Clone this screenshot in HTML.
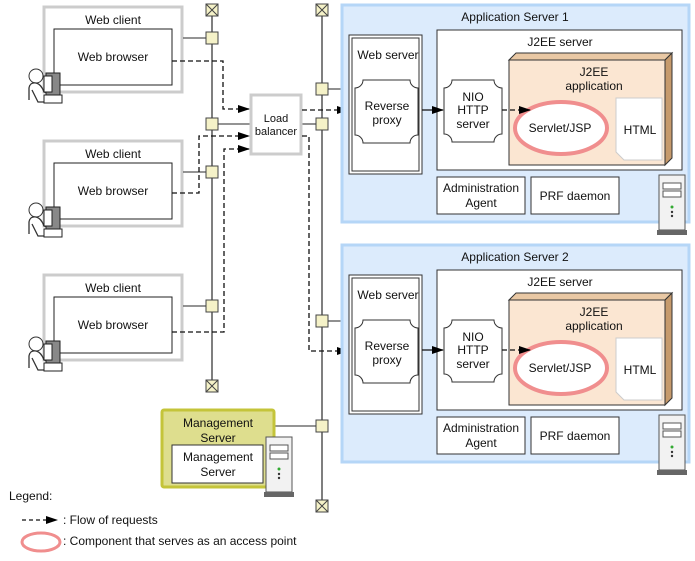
<!DOCTYPE html>
<html><head><meta charset="utf-8"><style>
body{margin:0;background:#fff}
text{font-family:"Liberation Sans",sans-serif;font-size:12px;fill:#111}
</style></head><body>
<svg width="695" height="556" viewBox="0 0 695 556" xmlns="http://www.w3.org/2000/svg">
<defs>
<marker id="ar" markerWidth="12" markerHeight="8" refX="11" refY="4" orient="auto" markerUnits="userSpaceOnUse"><path d="M0,0 L12,4 L0,8 z" fill="#000"/></marker>
<g id="person">
<circle cx="22" cy="8" r="7" fill="#fff" stroke="#333"/>
<path d="M15,32 L15,20 Q16,14 22,15 Q27,16 30,24 L38,26 M18,22 L24,34 L40,34" fill="none" stroke="#333" stroke-width="1.3"/>
<rect x="32" y="5" width="14" height="22" fill="#888" stroke="#222"/>
<rect x="30" y="8" width="8" height="16" fill="#fff" stroke="#222"/>
<rect x="30" y="27" width="18" height="8" fill="#fff" stroke="#222"/>
</g>
<g id="tower">
<rect x="2" y="0" width="26" height="55" fill="#f2f2f2" stroke="#555"/>
<rect x="6" y="8" width="18" height="6" fill="#fff" stroke="#555"/>
<rect x="6" y="16" width="18" height="6" fill="#fff" stroke="#555"/>
<circle cx="15" cy="32" r="1.5" fill="#3a3"/><circle cx="15" cy="37" r="1.2" fill="#333"/><circle cx="15" cy="41" r="1.2" fill="#333"/>
<rect x="0" y="55" width="30" height="5" fill="#666"/>
</g>
</defs>

<!-- bus lines -->
<line x1="212" y1="10" x2="212" y2="384" stroke="#555" stroke-width="1.5"/>
<line x1="322" y1="10" x2="322" y2="504" stroke="#555" stroke-width="1.5"/>

<!-- web clients -->
<g fill="none">
<rect x="44" y="7" width="138" height="85" stroke="#ccc" stroke-width="3" fill="#fff"/>
<rect x="54" y="29" width="118" height="56" stroke="#222"/>
<rect x="44" y="141" width="138" height="85" stroke="#ccc" stroke-width="3" fill="#fff"/>
<rect x="54" y="163" width="118" height="56" stroke="#222"/>
<rect x="44" y="275" width="138" height="85" stroke="#ccc" stroke-width="3" fill="#fff"/>
<rect x="54" y="297" width="118" height="56" stroke="#222"/>
</g>
<text x="113" y="24" text-anchor="middle">Web client</text>
<text x="113" y="61" text-anchor="middle">Web browser</text>
<text x="113" y="158" text-anchor="middle">Web client</text>
<text x="113" y="195" text-anchor="middle">Web browser</text>
<text x="113" y="292" text-anchor="middle">Web client</text>
<text x="113" y="329" text-anchor="middle">Web browser</text>
<use href="#person" x="14" y="68"/>
<use href="#person" x="14" y="202"/>
<use href="#person" x="14" y="336"/>

<!-- solid links -->
<g stroke="#555" stroke-width="1.3">
<line x1="183" y1="38" x2="206" y2="38"/>
<line x1="183" y1="172" x2="206" y2="172"/>
<line x1="183" y1="306" x2="206" y2="306"/>
<line x1="218" y1="124" x2="250" y2="124"/>
<line x1="302" y1="124" x2="316" y2="124"/>
<line x1="328" y1="89" x2="341" y2="89"/>
<line x1="328" y1="321" x2="341" y2="321"/>
<line x1="274" y1="426" x2="316" y2="426"/>
</g>

<!-- load balancer -->
<rect x="251" y="95" width="50" height="59" fill="#fff" stroke="#ccc" stroke-width="3"/>
<text x="276" y="122" text-anchor="middle" font-size="11" style="font-size:11px">Load</text>
<text x="276" y="135" text-anchor="middle" style="font-size:11px">balancer</text>

<!-- dashed flows -->
<g fill="none" stroke="#111" stroke-width="1.3" stroke-dasharray="5,3">
<path d="M172,61 L223,61 L223,109 L249,109" marker-end="url(#ar)"/>
<path d="M172,193 L199,193 L199,136 L249,136" marker-end="url(#ar)"/>
<path d="M172,332 L224,332 L224,149 L249,149" marker-end="url(#ar)"/>
<path d="M302,110 L348,110" marker-end="url(#ar)"/>
<path d="M302,136 L309,136 L309,351 L348,351" marker-end="url(#ar)"/>
</g>

<!-- connector squares -->
<g fill="#f5f2c8" stroke="#444">
<rect x="206" y="32" width="12" height="12"/>
<rect x="206" y="118" width="12" height="12"/>
<rect x="206" y="166" width="12" height="12"/>
<rect x="206" y="300" width="12" height="12"/>
<rect x="316" y="83" width="12" height="12"/>
<rect x="316" y="118" width="12" height="12"/>
<rect x="316" y="315" width="12" height="12"/>
<rect x="316" y="420" width="12" height="12"/>
</g>
<g fill="#f5f2c8" stroke="#444">
<rect x="206" y="4" width="12" height="12"/><path d="M206,4 L218,16 M218,4 L206,16"/>
<rect x="206" y="380" width="12" height="12"/><path d="M206,380 L218,392 M218,380 L206,392"/>
<rect x="316" y="4" width="12" height="12"/><path d="M316,4 L328,16 M328,4 L316,16"/>
<rect x="316" y="500" width="12" height="12"/><path d="M316,500 L328,512 M328,500 L316,512"/>
</g>

<!-- app servers -->
<g id="as1">
<rect x="342" y="5" width="347" height="217" fill="#dcebfc" stroke="#b5d6f7" stroke-width="3"/>
<rect x="349" y="35" width="73" height="139" fill="#fff" stroke="#333"/>
<rect x="352" y="38" width="67" height="133" fill="none" stroke="#333"/>
<path d="M363,80 L410,80 A8,8 0 0 0 418,88 L418,135 A8,8 0 0 0 410,143 L363,143 A8,8 0 0 0 355,135 L355,88 A8,8 0 0 0 363,80 Z" fill="#fff" stroke="#333"/>
<rect x="437" y="30" width="245" height="140" fill="#fff" stroke="#333"/>
<path d="M444+0,0" />
<path d="M452,80 L494,80 A8,8 0 0 0 502,88 L502,134 A8,8 0 0 0 494,142 L452,142 A8,8 0 0 0 444,134 L444,88 A8,8 0 0 0 452,80 Z" fill="#fff" stroke="#333"/>
<path d="M509,60 L516,53 L672,53 L665,60 Z" fill="#e9c8a4" stroke="#333"/>
<path d="M665,60 L672,53 L672,158 L665,165 Z" fill="#c69a6c" stroke="#333"/>
<rect x="509" y="60" width="156" height="105" fill="#fbe6d2" stroke="#333"/>
<path d="M616,98 L662,98 L662,160 L624,160 L616,152 Z" fill="#fff" stroke="#ccc"/>
<ellipse cx="561" cy="128" rx="46" ry="26" fill="#fff" stroke="#f08e8e" stroke-width="4"/>
<path d="M422,110 L443,110" stroke="#111" stroke-width="1.3" marker-end="url(#ar)"/>
<path d="M502,110 L530,110" stroke="#111" stroke-width="1.3" stroke-dasharray="5,3" marker-end="url(#ar)"/>
<rect x="437" y="177" width="88" height="37" fill="#fff" stroke="#333"/>
<rect x="531" y="177" width="88" height="37" fill="#fff" stroke="#333"/>
<use href="#tower" x="657" y="175"/>
<text x="515" y="21" text-anchor="middle">Application Server 1</text>
<text x="388" y="59" text-anchor="middle">Web server</text>
<text x="387" y="110" text-anchor="middle">Reverse</text>
<text x="387" y="124" text-anchor="middle">proxy</text>
<text x="560" y="46" text-anchor="middle">J2EE server</text>
<text x="473" y="101" text-anchor="middle">NIO</text>
<text x="473" y="114" text-anchor="middle">HTTP</text>
<text x="473" y="128" text-anchor="middle">server</text>
<text x="594" y="76" text-anchor="middle">J2EE</text>
<text x="594" y="90" text-anchor="middle">application</text>
<text x="560" y="132" text-anchor="middle">Servlet/JSP</text>
<text x="640" y="134" text-anchor="middle">HTML</text>
<text x="481" y="192" text-anchor="middle">Administration</text>
<text x="481" y="207" text-anchor="middle">Agent</text>
<text x="575" y="200" text-anchor="middle">PRF daemon</text>
</g>
<g transform="translate(0,240)">
<rect x="342" y="5" width="347" height="217" fill="#dcebfc" stroke="#b5d6f7" stroke-width="3"/>
<rect x="349" y="35" width="73" height="139" fill="#fff" stroke="#333"/>
<rect x="352" y="38" width="67" height="133" fill="none" stroke="#333"/>
<path d="M363,80 L410,80 A8,8 0 0 0 418,88 L418,135 A8,8 0 0 0 410,143 L363,143 A8,8 0 0 0 355,135 L355,88 A8,8 0 0 0 363,80 Z" fill="#fff" stroke="#333"/>
<rect x="437" y="30" width="245" height="140" fill="#fff" stroke="#333"/>
<path d="M452,80 L494,80 A8,8 0 0 0 502,88 L502,134 A8,8 0 0 0 494,142 L452,142 A8,8 0 0 0 444,134 L444,88 A8,8 0 0 0 452,80 Z" fill="#fff" stroke="#333"/>
<path d="M509,60 L516,53 L672,53 L665,60 Z" fill="#e9c8a4" stroke="#333"/>
<path d="M665,60 L672,53 L672,158 L665,165 Z" fill="#c69a6c" stroke="#333"/>
<rect x="509" y="60" width="156" height="105" fill="#fbe6d2" stroke="#333"/>
<path d="M616,98 L662,98 L662,160 L624,160 L616,152 Z" fill="#fff" stroke="#ccc"/>
<ellipse cx="561" cy="128" rx="46" ry="26" fill="#fff" stroke="#f08e8e" stroke-width="4"/>
<path d="M422,110 L443,110" stroke="#111" stroke-width="1.3" marker-end="url(#ar)"/>
<path d="M502,110 L530,110" stroke="#111" stroke-width="1.3" stroke-dasharray="5,3" marker-end="url(#ar)"/>
<rect x="437" y="177" width="88" height="37" fill="#fff" stroke="#333"/>
<rect x="531" y="177" width="88" height="37" fill="#fff" stroke="#333"/>
<use href="#tower" x="657" y="175"/>
<text x="515" y="21" text-anchor="middle">Application Server 2</text>
<text x="388" y="59" text-anchor="middle">Web server</text>
<text x="387" y="110" text-anchor="middle">Reverse</text>
<text x="387" y="124" text-anchor="middle">proxy</text>
<text x="560" y="46" text-anchor="middle">J2EE server</text>
<text x="473" y="101" text-anchor="middle">NIO</text>
<text x="473" y="114" text-anchor="middle">HTTP</text>
<text x="473" y="128" text-anchor="middle">server</text>
<text x="594" y="76" text-anchor="middle">J2EE</text>
<text x="594" y="90" text-anchor="middle">application</text>
<text x="560" y="132" text-anchor="middle">Servlet/JSP</text>
<text x="640" y="134" text-anchor="middle">HTML</text>
<text x="481" y="192" text-anchor="middle">Administration</text>
<text x="481" y="207" text-anchor="middle">Agent</text>
<text x="575" y="200" text-anchor="middle">PRF daemon</text>
</g>

<!-- management server -->
<rect x="162" y="410" width="112" height="77" rx="2" fill="#dede8e" stroke="#c4c43a" stroke-width="3"/>
<rect x="172" y="445" width="91" height="38" fill="#fff" stroke="#333"/>
<text x="218" y="427" text-anchor="middle">Management</text>
<text x="218" y="442" text-anchor="middle">Server</text>
<text x="218" y="461" text-anchor="middle">Management</text>
<text x="218" y="476" text-anchor="middle">Server</text>
<use href="#tower" x="264" y="437"/>

<!-- legend -->
<text x="9" y="500">Legend:</text>
<path d="M22,520 L48,520" stroke="#111" stroke-width="1.3" stroke-dasharray="4,3"/>
<path d="M46,516 L58,520 L46,524 Z" fill="#000"/>
<text x="63" y="524">: Flow of requests</text>
<ellipse cx="41" cy="542" rx="19" ry="9" fill="#fff" stroke="#f08e8e" stroke-width="3"/>
<text x="63" y="545">: Component that serves as an access point</text>
</svg>
</body></html>
